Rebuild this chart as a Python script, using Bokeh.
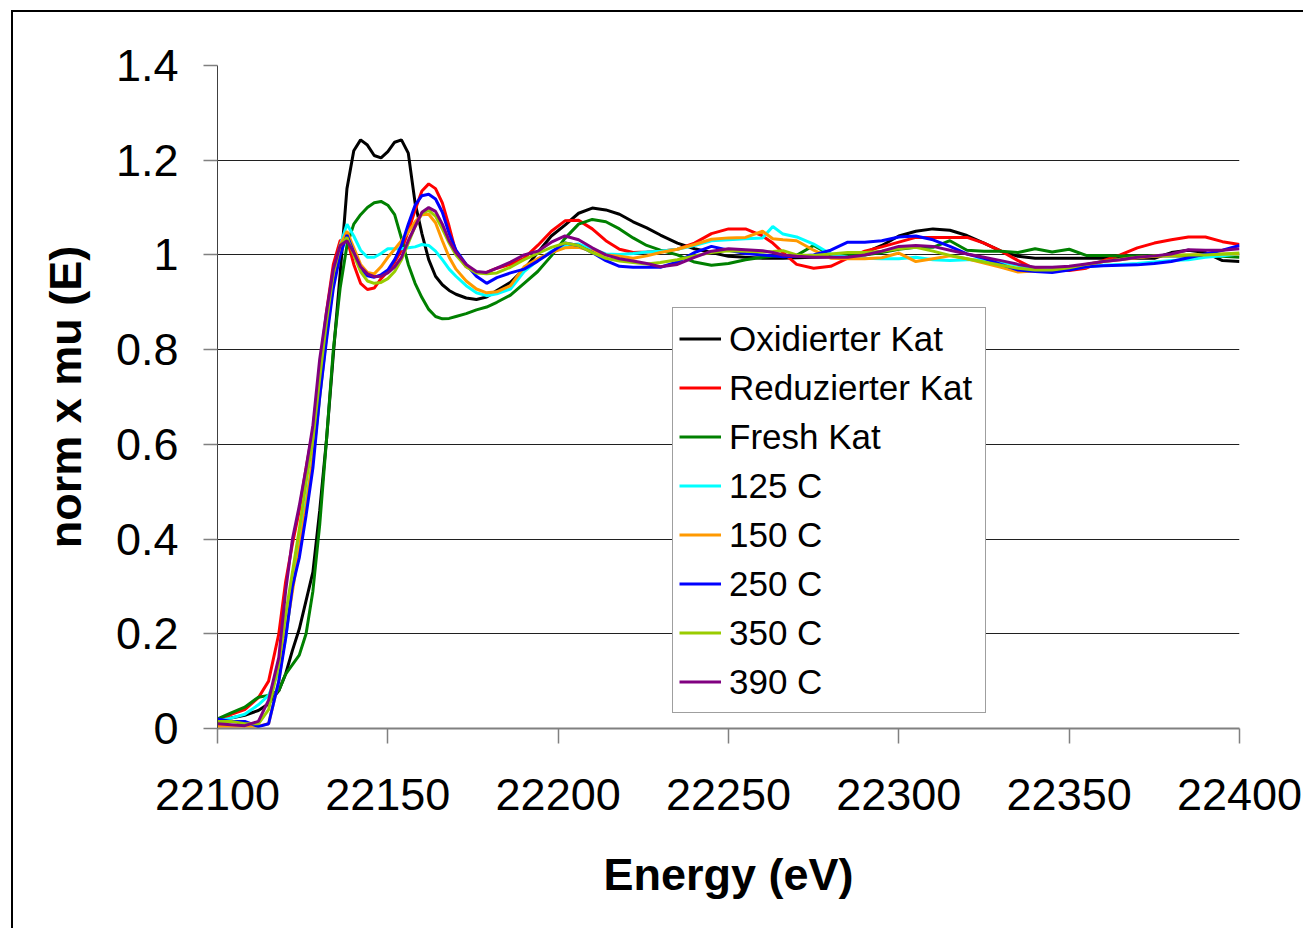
from bokeh.plotting import figure
from bokeh.models import FixedTicker, Legend
from bokeh.embed import file_html
from bokeh.resources import INLINE

energy = [22100, 22104, 22108, 22112, 22115, 22118, 22120, 22122, 22124, 22126, 22128, 22130,
          22132, 22134, 22136, 22138, 22140, 22142, 22144, 22146, 22148, 22150, 22152, 22154,
          22156, 22158, 22160, 22162, 22164, 22166, 22168, 22170, 22173, 22176, 22179, 22182,
          22186, 22190, 22194, 22198, 22202, 22206, 22210, 22214, 22218, 22222, 22226, 22230,
          22235, 22240, 22245, 22250, 22255, 22260, 22263, 22266, 22270, 22275, 22280, 22285,
          22290, 22295, 22300, 22305, 22310, 22315, 22320, 22325, 22330, 22335, 22340, 22345,
          22350, 22355, 22360, 22365, 22370, 22375, 22380, 22385, 22390, 22395, 22400]

oxidierter = [0.02, 0.022, 0.028, 0.038, 0.052, 0.08, 0.115, 0.165, 0.21, 0.27, 0.33, 0.46,
              0.61, 0.79, 0.96, 1.14, 1.22, 1.243, 1.232, 1.21, 1.205, 1.218, 1.238, 1.243,
              1.215, 1.11, 1.045, 0.99, 0.955, 0.937, 0.925, 0.917, 0.909, 0.906, 0.911, 0.925,
              0.942, 0.97, 1.005, 1.04, 1.063, 1.088, 1.099, 1.095, 1.086, 1.07, 1.057, 1.042,
              1.025, 1.013, 1.005, 0.997, 0.995, 0.993, 0.993, 0.993, 0.994, 0.995, 0.996, 0.998,
              1.005, 1.02, 1.04, 1.05, 1.055, 1.052, 1.041, 1.025, 1.008, 0.997, 0.993, 0.993,
              0.993, 0.993, 0.993, 0.993, 0.993, 0.993, 1.005, 1.01, 1.005, 0.988, 0.986]

reduzierter = [0.01, 0.03, 0.04, 0.065, 0.1, 0.2, 0.31, 0.39, 0.46, 0.55, 0.63, 0.76,
               0.88, 0.98, 1.03, 1.035, 0.98, 0.94, 0.927, 0.93, 0.95, 0.965, 0.985, 1.01,
               1.05, 1.095, 1.135, 1.15, 1.14, 1.11, 1.06, 1.005, 0.975, 0.963, 0.963, 0.972,
               0.98, 0.993, 1.02, 1.05, 1.072, 1.073, 1.055, 1.03, 1.012, 1.005, 1.006, 1.008,
               1.012, 1.025, 1.045, 1.055, 1.055, 1.04, 1.025, 1.005, 0.98, 0.972, 0.976, 0.993,
               1.008, 1.017, 1.027, 1.037, 1.037, 1.037, 1.037, 1.025, 1.008, 0.988, 0.97, 0.967,
               0.967, 0.972, 0.988, 1.0, 1.015, 1.025, 1.032, 1.038, 1.038, 1.028, 1.022]

fresh = [0.02, 0.033, 0.045, 0.066, 0.07, 0.08, 0.115, 0.135, 0.155, 0.2, 0.29, 0.43,
         0.61, 0.8, 0.93, 1.02, 1.065, 1.085, 1.1, 1.11, 1.113, 1.105, 1.085, 1.035,
         0.98, 0.94, 0.91, 0.885, 0.87, 0.865, 0.866, 0.87, 0.876, 0.884, 0.89, 0.9,
         0.915, 0.94, 0.965, 0.998, 1.035, 1.065, 1.075, 1.07, 1.055, 1.036, 1.02, 1.01,
         1.0, 0.985, 0.978, 0.982, 0.99, 0.995, 0.997, 0.998, 0.999, 1.02, 1.0, 1.0,
         1.0, 1.005, 1.012, 1.016, 1.016, 1.03, 1.01, 1.008, 1.008, 1.005, 1.013, 1.006,
         1.012, 0.999, 0.999, 0.998, 0.998, 0.998, 0.998, 0.998, 0.998, 0.997, 0.995]

c125 = [0.015, 0.022, 0.03, 0.05, 0.07, 0.12, 0.19, 0.3, 0.4, 0.48, 0.57, 0.7,
        0.83, 0.94, 1.02, 1.065, 1.04, 1.01, 0.995, 0.995, 1.003, 1.013, 1.013, 1.013,
        1.015, 1.017, 1.022, 1.02, 1.008, 0.99, 0.97, 0.955, 0.935, 0.92, 0.914, 0.918,
        0.928, 0.965, 0.988, 1.008, 1.02, 1.023, 1.012, 1.002, 1.001, 1.003, 1.006, 1.008,
        1.012, 1.02, 1.03, 1.032, 1.034, 1.036, 1.06, 1.044, 1.038, 1.023, 1.002, 0.995,
        0.993, 0.992, 0.992, 0.995, 0.99, 0.988, 0.99, 0.99, 0.985, 0.978, 0.967, 0.969,
        0.971, 0.975, 0.978, 0.98, 0.982, 0.985, 0.988, 0.99, 0.995, 0.998, 1.002]

c150 = [0.005, 0.005, 0.005, 0.005, 0.01, 0.1, 0.2, 0.29, 0.38, 0.47, 0.57, 0.7,
        0.83, 0.94, 1.02, 1.05, 1.015, 0.98, 0.963, 0.96, 0.975, 0.995, 1.012, 1.03,
        1.048, 1.07, 1.085, 1.086, 1.068, 1.03, 0.995, 0.97, 0.945, 0.928, 0.92, 0.922,
        0.935, 0.975, 0.992, 1.005, 1.015, 1.016, 1.008, 1.0, 0.997, 0.993, 0.998, 1.005,
        1.012, 1.022, 1.033, 1.036, 1.037, 1.05, 1.034, 1.032, 1.03, 1.01, 0.993, 0.992,
        0.992, 0.994, 1.004, 0.986, 0.992, 0.998, 0.992, 0.983, 0.974, 0.964, 0.966, 0.968,
        0.972, 0.98, 0.986, 0.99, 0.994, 0.997, 0.999, 1.0, 1.001, 1.002, 1.002]

c250 = [0.02, 0.015, 0.015, 0.004, 0.01, 0.1, 0.19, 0.3, 0.36, 0.45, 0.55, 0.7,
        0.82, 0.93, 1.0, 1.042, 1.005, 0.97, 0.956, 0.953, 0.958, 0.968, 0.99, 1.02,
        1.065, 1.105, 1.125, 1.128, 1.118, 1.09, 1.045, 1.01, 0.98, 0.955, 0.94, 0.952,
        0.962, 0.97, 0.987, 1.006, 1.025, 1.02, 1.005, 0.988, 0.976, 0.974, 0.974, 0.974,
        0.985, 1.005, 1.018, 1.01, 1.003, 1.0, 0.998, 0.996, 0.997, 1.0, 1.01, 1.027,
        1.027, 1.03, 1.038, 1.04, 1.032, 1.018, 1.002, 0.993, 0.98, 0.968, 0.965, 0.963,
        0.968, 0.975, 0.977, 0.978, 0.979, 0.982, 0.986, 0.994, 1.002, 1.01, 1.02]

c350 = [0.015, 0.015, 0.01, 0.01, 0.04, 0.137, 0.24, 0.33, 0.42, 0.52, 0.61, 0.74,
        0.86, 0.96, 1.02, 1.037, 1.0, 0.965, 0.945, 0.94, 0.942, 0.95, 0.965, 0.99,
        1.025, 1.06, 1.088, 1.094, 1.082, 1.055, 1.025, 1.0, 0.975, 0.962, 0.96, 0.962,
        0.974, 0.99, 1.003, 1.016, 1.025, 1.02, 1.005, 0.993, 0.987, 0.984, 0.981, 0.984,
        0.99, 0.998, 1.005, 1.009, 1.008, 1.006, 1.007, 1.009, 1.0, 0.999, 1.002, 1.005,
        1.005, 1.008, 1.013, 1.016, 1.008, 0.999, 0.992, 0.985, 0.978, 0.972, 0.968, 0.968,
        0.973, 0.98, 0.986, 0.991, 0.995, 0.998, 1.0, 1.0, 1.0, 1.002, 1.004]

c390 = [0.01, 0.008, 0.006, 0.015, 0.06, 0.15, 0.29, 0.4, 0.47, 0.55, 0.64, 0.78,
        0.88, 0.97, 1.02, 1.03, 1.005, 0.975, 0.96, 0.954, 0.955, 0.962, 0.975, 0.995,
        1.03, 1.06, 1.09, 1.1, 1.092, 1.065, 1.03, 1.005, 0.98, 0.965, 0.963, 0.972,
        0.985, 1.0, 1.008, 1.027, 1.04, 1.032, 1.015, 1.0, 0.992, 0.987, 0.982, 0.975,
        0.98, 0.995, 1.008, 1.013, 1.011, 1.009, 1.005, 1.0, 0.997, 0.995, 0.995, 0.995,
        1.0, 1.008, 1.018, 1.02, 1.018, 1.01, 1.002, 0.995, 0.988, 0.98, 0.974, 0.974,
        0.976, 0.981, 0.986, 0.99, 0.995, 0.998, 1.002, 1.011, 1.01, 1.01, 1.013]

series_names = ["Oxidierter Kat", "Reduzierter Kat", "Fresh Kat", "125 C", "150 C",
                "250 C", "350 C", "390 C"]
series_values = [oxidierter, reduzierter, fresh, c125, c150, c250, c350, c390]
series_colors = ["#000000", "#FF0000", "#008000", "#00FFFF", "#FF9900",
                 "#0000FF", "#99CC00", "#800080"]

x_ticks = [22100, 22150, 22200, 22250, 22300, 22350, 22400]
x_tick_labels = ["22100", "22150", "22200", "22250", "22300", "22350", "22400"]
y_ticks = [0, 0.2, 0.4, 0.6, 0.8, 1, 1.2, 1.4]
y_tick_labels = ["0", "0.2", "0.4", "0.6", "0.8", "1", "1.2", "1.4"]

FONT = "Liberation Sans"

p = figure(width=1303, height=928, x_range=(22100, 22400), y_range=(0, 1.4),
           output_backend="svg", toolbar_location=None,
           min_border_left=217, min_border_right=64, min_border_top=65, min_border_bottom=200)
p.background_fill_color = "white"
p.border_fill_color = "white"
p.border_fill_alpha = 0
p.outline_line_color = None
# outer chart-area border (left and top edges visible), drawn behind the transparent canvas border
p.styles = {
    "background-color": "white",
    "background-image": "linear-gradient(#000000, #000000), linear-gradient(#000000, #000000)",
    "background-position": "11px 10px, 11px 10px",
    "background-size": "2px 100%, 100% 2px",
    "background-repeat": "no-repeat, no-repeat",
}

lines = []
for name, vals, col in zip(series_names, series_values, series_colors):
    r = p.line(energy, vals, line_color=col, line_width=3)
    lines.append((name, [r]))

legend = Legend(items=lines, location=(455, 15))
legend.label_text_font = FONT
legend.label_text_font_size = "35px"
legend.label_text_color = "black"
legend.glyph_width = 42
legend.glyph_height = 49
legend.label_height = 49
legend.label_width = 250
legend.label_standoff = 8
legend.spacing = 0
legend.padding = 6
legend.margin = 0
legend.border_line_color = "#404040"
legend.border_line_width = 1
legend.background_fill_color = "white"
legend.background_fill_alpha = 1
p.add_layout(legend, "center")

# axes
p.xaxis.ticker = FixedTicker(ticks=x_ticks)
p.xaxis.major_label_overrides = dict(zip(x_ticks, x_tick_labels))
p.yaxis.ticker = FixedTicker(ticks=y_ticks)
p.yaxis.major_label_overrides = dict(zip(y_ticks, y_tick_labels))

for ax in (p.xaxis[0], p.yaxis[0]):
    ax.major_label_text_font = FONT
    ax.major_label_text_font_size = "45px"
    ax.major_label_text_color = "black"
    ax.axis_label_text_font = FONT
    ax.axis_label_text_font_size = "45px"
    ax.axis_label_text_font_style = "bold"
    ax.axis_label_text_color = "black"
    ax.minor_tick_line_color = None
    ax.major_tick_in = 0
    ax.major_tick_line_color = "#808080"
    ax.major_tick_line_width = 1.5

p.xaxis.axis_label = "Energy (eV)"
p.yaxis.axis_label = "norm x mu (E)"
p.xaxis.major_tick_out = 15
p.yaxis.major_tick_out = 14
p.xaxis.major_label_standoff = 35
p.yaxis.major_label_standoff = 25
p.xaxis.axis_label_standoff = 36
p.yaxis.axis_label_standoff = 22
p.xaxis.axis_line_color = "#808080"
p.xaxis.axis_line_width = 2
p.yaxis.axis_line_color = "#404040"
p.yaxis.axis_line_width = 1

p.xgrid.grid_line_color = None
p.ygrid.ticker = FixedTicker(ticks=y_ticks)
p.ygrid.grid_line_color = "#202020"
p.ygrid.grid_line_width = 1

open("out.html", "w").write(file_html(p, INLINE))
